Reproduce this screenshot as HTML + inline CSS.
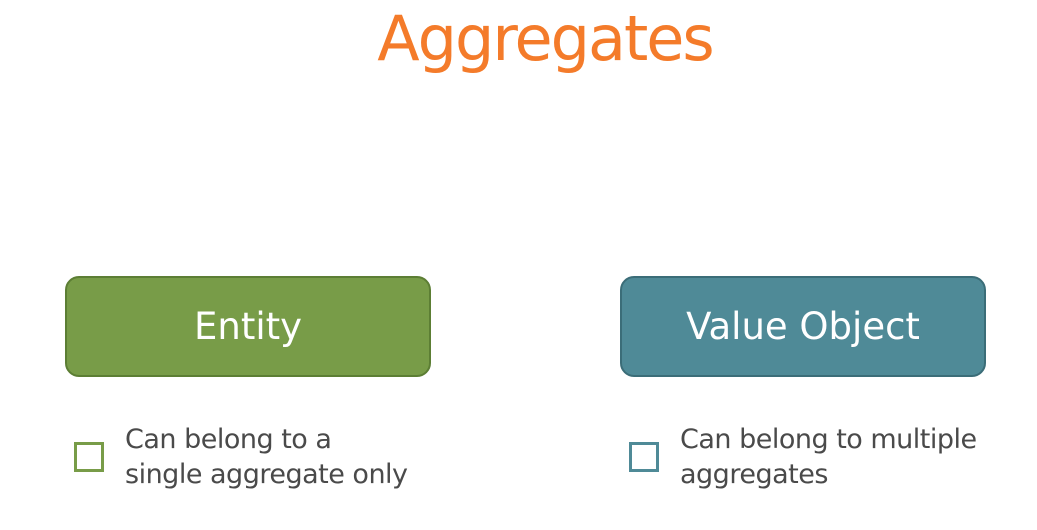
<!DOCTYPE html>
<html><head><style>
body{margin:0;width:1037px;height:530px;background:#fff;position:relative;overflow:hidden;font-family:"DejaVu Sans","Liberation Sans",sans-serif}
.t{position:absolute;left:0;width:1090px;text-align:center;top:2px;font-size:62px;color:#f47b2a;letter-spacing:-2px}
.b{position:absolute;top:276px;width:362px;height:97px;border-radius:14px;color:#fff;font-size:37px;text-align:center;line-height:97px}
.g{left:65px;background:#789c48;border:2px solid #5c7e34}
.v{left:620px;background:#4f8a97;border:2px solid #3b6d78}
.c{position:absolute;top:442px;width:24px;height:24px;border:3px solid}
.x{position:absolute;top:422px;font-size:27px;line-height:35px;color:#4a4a4a;letter-spacing:-0.5px}
</style></head><body>
<div class="t">Aggregates</div>
<div class="b g">Entity</div>
<div class="b v">Value Object</div>
<div class="c" style="left:74px;border-color:#789c48"></div>
<div class="x" style="left:125px">Can belong to a<br>single aggregate only</div>
<div class="c" style="left:629px;border-color:#4f8a97"></div>
<div class="x" style="left:680px">Can belong to multiple<br>aggregates</div>
</body></html>
